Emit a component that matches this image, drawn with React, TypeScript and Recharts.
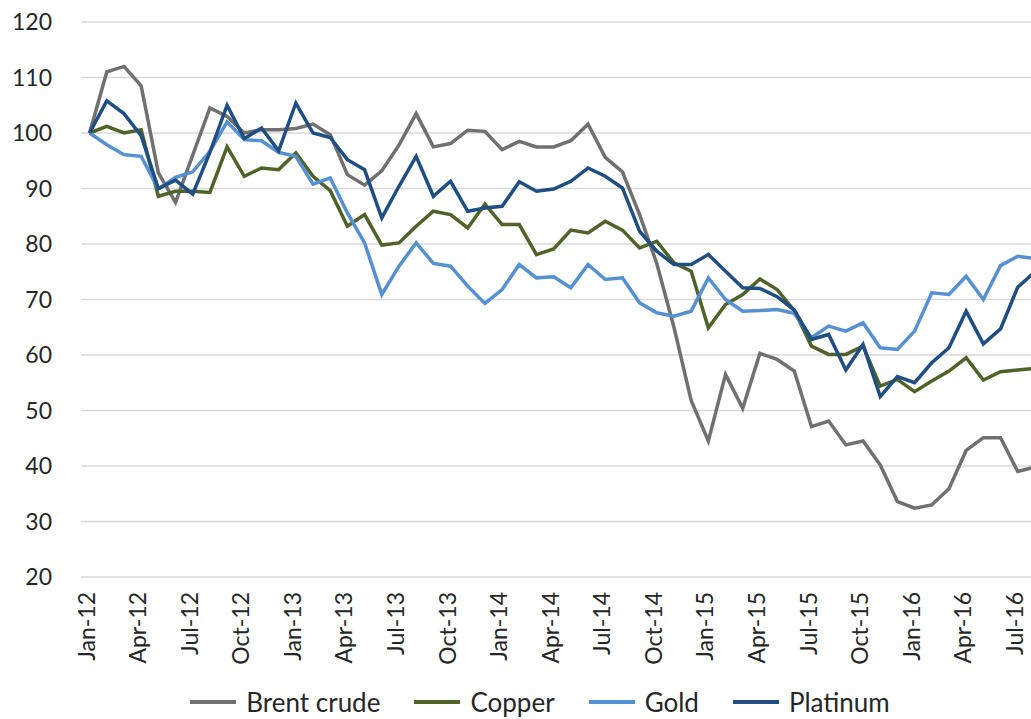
import { LineChart, Line, XAxis, YAxis, CartesianGrid, Legend } from 'recharts';

const months = [
  'Jan-12', 'Feb-12', 'Mar-12', 'Apr-12', 'May-12', 'Jun-12', 'Jul-12', 'Aug-12', 'Sep-12', 'Oct-12', 'Nov-12', 'Dec-12',
  'Jan-13', 'Feb-13', 'Mar-13', 'Apr-13', 'May-13', 'Jun-13', 'Jul-13', 'Aug-13', 'Sep-13', 'Oct-13', 'Nov-13', 'Dec-13',
  'Jan-14', 'Feb-14', 'Mar-14', 'Apr-14', 'May-14', 'Jun-14', 'Jul-14', 'Aug-14', 'Sep-14', 'Oct-14', 'Nov-14', 'Dec-14',
  'Jan-15', 'Feb-15', 'Mar-15', 'Apr-15', 'May-15', 'Jun-15', 'Jul-15', 'Aug-15', 'Sep-15', 'Oct-15', 'Nov-15', 'Dec-15',
  'Jan-16', 'Feb-16', 'Mar-16', 'Apr-16', 'May-16', 'Jun-16', 'Jul-16', 'Aug-16',
];

const brentCrude = [
  100, 111, 112, 108.5, 92.8, 87.5, 96, 104.5, 103, 100, 100.6, 100.6,
  100.8, 101.6, 99.7, 92.5, 90.6, 93.2, 97.8, 103.5, 97.5, 98.1, 100.5, 100.3,
  97, 98.5, 97.5, 97.5, 98.6, 101.6, 95.6, 93, 85.3, 76.5, 65, 51.8,
  44.5, 56.5, 50.4, 60.3, 59.2, 57.1, 47.1, 48.1, 43.8, 44.5, 40.2, 33.6,
  32.4, 33, 35.9, 42.8, 45.1, 45.1, 39, 39.8,
];

const copper = [
  100, 101.2, 100, 100.6, 88.6, 89.5, 89.5, 89.3, 97.5, 92.2, 93.7, 93.4,
  96.4, 92.2, 89.6, 83.2, 85.3, 79.8, 80.2, 83.2, 85.9, 85.3, 82.9, 87.2,
  83.5, 83.5, 78.1, 79.1, 82.5, 82, 84.1, 82.5, 79.3, 80.5, 76.6, 75.1,
  64.9, 69.1, 70.9, 73.7, 71.8, 68, 61.6, 60.1, 60.1, 61.6, 54.4, 55.6,
  53.4, 55.3, 57.1, 59.5, 55.5, 57, 57.3, 57.6,
];

const gold = [
  100, 97.9, 96.1, 95.8, 89.9, 92, 93, 96.7, 102, 98.8, 98.6, 96.5,
  95.8, 90.8, 91.9, 85.6, 80.2, 70.9, 76, 80.2, 76.5, 76, 72.4, 69.3,
  71.8, 76.3, 73.9, 74.1, 72.1, 76.3, 73.6, 73.9, 69.4, 67.6, 67, 67.9,
  73.9, 70, 67.9, 68, 68.2, 67.5, 63.1, 65.2, 64.3, 65.8, 61.3, 61,
  64.3, 71.2, 70.9, 74.2, 70, 76.1, 77.8, 77.4,
];

const platinum = [
  100, 105.8, 103.5, 99.5, 90, 91.5, 89, 96.5, 105, 99, 100.9, 96.8,
  105.4, 100, 99.2, 95.2, 93.4, 84.7, 90.4, 95.8, 88.6, 91.3, 85.9, 86.5,
  86.8, 91.2, 89.5, 89.9, 91.3, 93.7, 92.2, 90.1, 82.3, 78.7, 76.3, 76.3,
  78.1, 75.1, 72.1, 72, 70.5, 68.1, 62.8, 63.7, 57.3, 61.9, 52.5, 56.1,
  55, 58.6, 61.3, 67.9, 62, 64.7, 72.2, 75,
];

const yTicks = [20, 30, 40, 50, 60, 70, 80, 90, 100, 110, 120];
// labels sit on every third month, tick marks on the category boundaries between them
const labelTicks = [0, 3, 6, 9, 12, 15, 18, 21, 24, 27, 30, 33, 36, 39, 42, 45, 48, 51, 54];
const boundaryTicks = [-0.5, 2.5, 5.5, 8.5, 11.5, 14.5, 17.5, 20.5, 23.5, 26.5, 29.5, 32.5, 35.5, 38.5, 41.5, 44.5, 47.5, 50.5, 53.5];

const data = months.map((month, idx) => ({
  idx,
  month,
  brent: brentCrude[idx],
  copper: copper[idx],
  gold: gold[idx],
  platinum: platinum[idx],
}));

const FONT = 'Lato, "Open Sans", sans-serif';
const TEXT = '#262626';
const GRID = '#d9d9d9';

// rotated month label, caps centred on the tick
const MonthTick = (props: any) => {
  const { x, y, payload } = props;
  return (
    <text
      x={0}
      y={0}
      dy="0.35em"
      transform={`translate(${x - 3},${y}) rotate(-90)`}
      textAnchor="end"
      fill={TEXT}
      fontSize={23}
      fontFamily={FONT}
    >
      {months[payload.value]}
    </text>
  );
};

const renderLegend = (props: any) => {
  const { payload = [] } = props;
  return (
    <div style={styles.legend}>
      {payload.map((entry: any) => (
        <div key={entry.value} style={styles.legendItem}>
          <span style={{ ...styles.legendSwatch, backgroundColor: entry.color }} />
          <span>{entry.value}</span>
        </div>
      ))}
    </div>
  );
};

export default function App() {
  const domainX: [number, number] = [-0.5, months.length - 0.5];

  return (
    <div style={styles.page}>
      <LineChart
        width={1060}
        height={719}
        data={data}
        margin={{ top: 22, right: 16.5, left: 0, bottom: 2 }}
      >
        <CartesianGrid vertical={false} stroke={GRID} strokeWidth={1.5} />
        {/* boundary tick marks + axis line */}
        <XAxis
          xAxisId="marks"
          dataKey="idx"
          type="number"
          domain={domainX}
          allowDataOverflow
          ticks={boundaryTicks}
          interval={0}
          height={0}
          tickFormatter={() => ''}
          tickSize={7}
          axisLine={{ stroke: GRID, strokeWidth: 1.5 }}
          tickLine={{ stroke: GRID, strokeWidth: 1.5 }}
        />
        <XAxis
          xAxisId="main"
          dataKey="idx"
          type="number"
          domain={domainX}
          allowDataOverflow
          ticks={labelTicks}
          interval={0}
          height={110}
          axisLine={false}
          tickLine={false}
          tickSize={0}
          tickMargin={15}
          tick={<MonthTick />}
        />
        <YAxis
          domain={[20, 120]}
          ticks={yTicks}
          interval={0}
          width={81}
          axisLine={false}
          tickLine={false}
          tickSize={0}
          tickMargin={29}
          tick={{ fill: TEXT, fontSize: 23, fontFamily: FONT }}
        />
        <Legend verticalAlign="bottom" content={renderLegend} wrapperStyle={{ left: 0, width: 1080 }} />
        <Line xAxisId="main" type="linear" dataKey="brent" name="Brent crude" stroke="#707070" strokeWidth={3.5} dot={false} isAnimationActive={false} />
        <Line xAxisId="main" type="linear" dataKey="copper" name="Copper" stroke="#4f6228" strokeWidth={3.5} dot={false} isAnimationActive={false} />
        <Line xAxisId="main" type="linear" dataKey="gold" name="Gold" stroke="#5590d2" strokeWidth={3.5} dot={false} isAnimationActive={false} />
        <Line xAxisId="main" type="linear" dataKey="platinum" name="Platinum" stroke="#1f4e82" strokeWidth={3.5} dot={false} isAnimationActive={false} />
      </LineChart>
    </div>
  );
}

const styles: { [key: string]: React.CSSProperties } = {
  page: {
    position: 'absolute',
    left: 0,
    top: 0,
    width: 1031,
    height: 719,
    overflow: 'hidden',
    backgroundColor: '#fff',
  },
  legend: {
    height: 30,
    display: 'flex',
    justifyContent: 'center',
    alignItems: 'center',
    gap: 34,
    fontFamily: FONT,
    fontSize: 26,
    color: TEXT,
  },
  legendItem: {
    display: 'flex',
    alignItems: 'center',
  },
  legendSwatch: {
    display: 'inline-block',
    width: 46,
    height: 4,
    marginRight: 10,
  },
};
